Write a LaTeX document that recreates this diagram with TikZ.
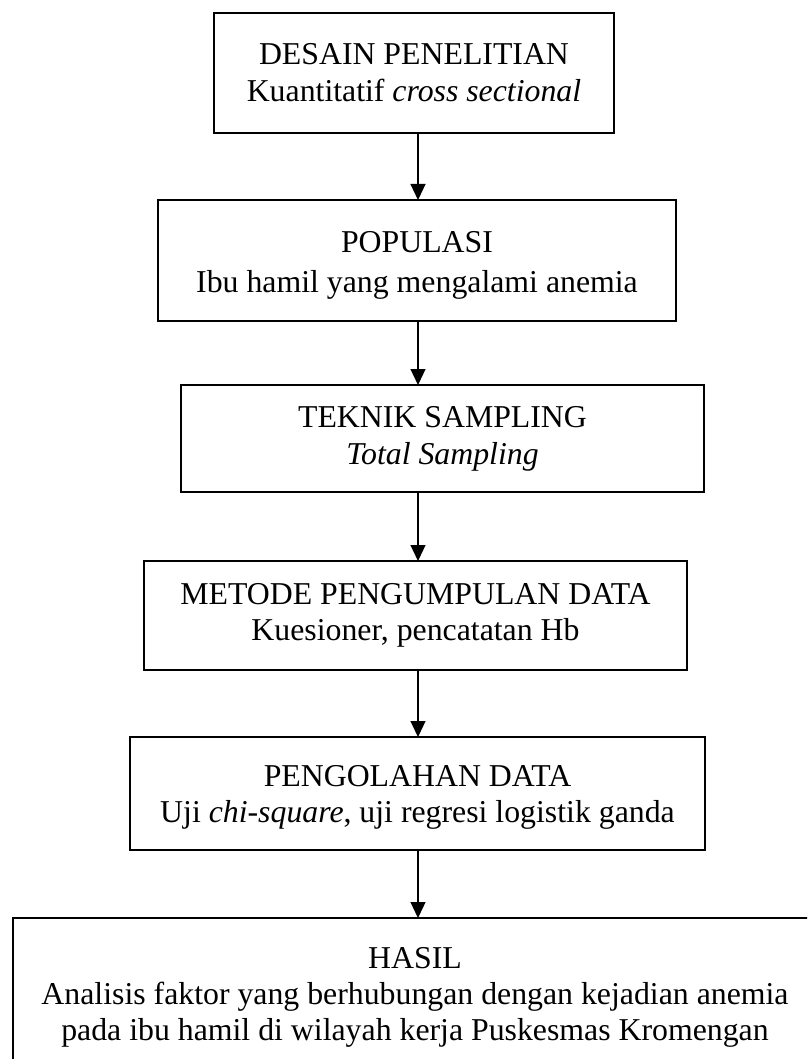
\documentclass[tikz,border=0pt]{standalone}
\usepackage{fontspec}
\setmainfont{Liberation Serif}
\usetikzlibrary{arrows.meta}
\begin{document}
\begin{tikzpicture}[x=1pt,y=-1pt,
  box/.style={draw, line width=2.5pt, inner sep=0pt, outer sep=0pt, align=center,
    font=\fontsize{31.8}{37}\selectfont},
  flow/.style={-{Triangle[length=16pt,width=15pt]}, line width=1.2pt}]
\useasboundingbox (0,0) rectangle (807,1059);
\clip (0,0) rectangle (807,1059);
\node[box, minimum width=400pt, minimum height=120pt] (b1) at (414,73)
  {DESAIN PENELITIAN\\Kuantitatif \textit{cross sectional}};
\node[box, minimum width=518pt, minimum height=121pt,
  font=\fontsize{31.8}{40}\selectfont] (b2) at (417,260.5)
  {\rule{0pt}{30pt}POPULASI\\Ibu hamil yang mengalami anemia};
\node[box, minimum width=523pt, minimum height=107pt] (b3) at (442.5,438.5)
  {TEKNIK SAMPLING\\\textit{Total Sampling}};
\node[box, minimum width=543pt, minimum height=109pt,
  font=\fontsize{31.8}{36}\selectfont] (b4) at (415.5,615.5)
  {METODE PENGUMPULAN DATA\\Kuesioner, pencatatan Hb};
\node[box, minimum width=575pt, minimum height=113pt,
  font=\fontsize{31.8}{36}\selectfont] (b5) at (417.5,793.5)
  {\rule{0pt}{28pt}PENGOLAHAN DATA\\Uji \textit{chi-square}, uji regresi logistik ganda};
\node[box, minimum width=804pt, minimum height=158pt,
  font=\fontsize{31.8}{36}\selectfont] (b6) at (415,997)
  {HASIL\\Analisis faktor yang berhubungan dengan kejadian anemia\\pada ibu hamil di wilayah kerja Puskesmas Kromengan};
\coordinate (ax) at (418,0);
\draw[flow] (b1.south -| ax) -- (b2.north -| ax);
\draw[flow] (b2.south -| ax) -- (b3.north -| ax);
\draw[flow] (b3.south -| ax) -- (b4.north -| ax);
\draw[flow] (b4.south -| ax) -- (b5.north -| ax);
\draw[flow] (b5.south -| ax) -- (b6.north -| ax);
\end{tikzpicture}
\end{document}
